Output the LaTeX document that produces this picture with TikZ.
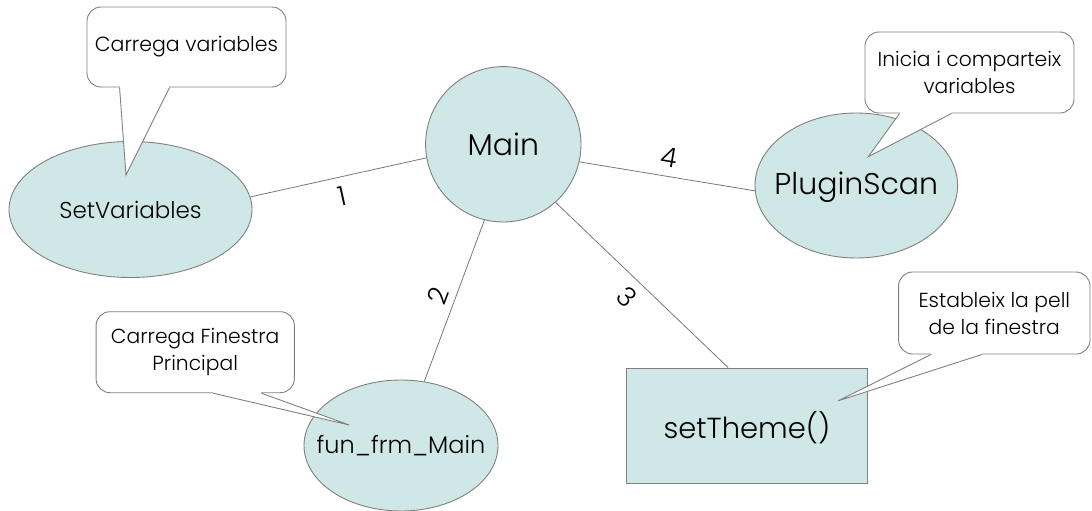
\documentclass[tikz,border=0pt]{standalone}
\usepackage{fontspec}
\newfontfamily\gothic{Poppins Light}
\usetikzlibrary{shapes.geometric,calc}
\definecolor{bubble}{RGB}{207,231,230}
\definecolor{edge}{RGB}{128,128,128}
\definecolor{linkgray}{RGB}{120,120,120}

% tail of a speech bubble: #1 bubble node, #2/#3 offsets of the base along its bottom edge, #4 tip
\newcommand\calloutTail[4]{%
  \fill[white] ($(#1.south west)+(#2,-2)$) -- ($(#1.south west)+(#2,0)$) -- (#4)
    -- ($(#1.south west)+(#3,0)$) -- ($(#1.south west)+(#3,-2)$) -- cycle;
  \draw[tail] ($(#1.south west)+(#2,0)$) -- (#4) -- ($(#1.south west)+(#3,0)$);
}

\begin{document}
\begin{tikzpicture}[x=1pt,y=-1pt,
  blob/.style={draw=edge, fill=bubble, line width=0.9pt, inner sep=0pt},
  oval/.style={blob, ellipse},
  caption/.style={label={[font=\gothic\fontsize{#1}{#1}\selectfont, inner sep=0pt]center:\captiontext}},
  note/.style={draw=edge, fill=white, line width=0.9pt, rounded corners=14pt,
    inner sep=0pt, align=center, font=\gothic\fontsize{20.3}{27}\selectfont},
  tail/.style={draw=edge, line width=0.9pt, line join=miter},
  link/.style={draw=linkgray, line width=0.8pt},
  num/.style={font=\gothic\fontsize{27}{27}\selectfont, inner sep=0pt}]
\useasboundingbox (0,0) rectangle (1092,511);

% process nodes: fixed-size shapes, names set as centred labels
\node[blob, circle, minimum size=155.4pt,
  label={[font=\gothic\fontsize{30}{30}\selectfont, inner sep=0pt]center:Main}]
  (main) at (503.3,144.3) {};
\node[oval, minimum width=243pt, minimum height=136pt,
  label={[font=\gothic\fontsize{23}{23}\selectfont, inner sep=0pt]center:SetVariables}]
  (setvar) at (130.5,209.5) {};
\node[oval, minimum width=202.6pt, minimum height=145pt,
  label={[font=\gothic\fontsize{30}{30}\selectfont, inner sep=0pt, yshift=-2pt]center:PluginScan}]
  (plugin) at (856.3,185.5) {};
\node[oval, minimum width=194pt, minimum height=131pt,
  label={[font=\gothic\fontsize{24}{24}\selectfont, inner sep=0pt]center:fun\_frm\_Main}]
  (funfrm) at (401,445.5) {};
\node[blob, rectangle, minimum width=240.2pt, minimum height=115.1pt,
  label={[font=\gothic\fontsize{29}{29}\selectfont, inner sep=0pt, yshift=-2pt]center:setTheme()}]
  (theme) at (746.9,425.5) {};

% numbered links from Main
\draw[link] (setvar.6) -- node[num, pos=0.52, yshift=-20pt, rotate=12.5] {1} (main.190.2);
\draw[link] (main.256.4) -- node[num, pos=0.467, xshift=-18pt, rotate=69.3] {2} (funfrm.70);
\draw[link] (main.-48.2) -- node[num, pos=0.573, xshift=-27pt, rotate=-43.8] {3} (theme.108.2);
\draw[link] (main.-13) -- node[num, pos=0.511, yshift=19pt, rotate=-9.6] {4} (plugin.183.5);

% speech bubbles
\node[note, minimum width=199pt, minimum height=80pt, font=\gothic\fontsize{20.5}{27}\selectfont]
  (cv) at (186.5,47) {Carrega variables};
\coordinate (cvtip) at (126,175);
\calloutTail{cv}{33}{83}{cvtip}

\node[note, minimum width=209pt, minimum height=81pt]
  (ci) at (969.5,72.5) {Inicia i comparteix\\variables};
\coordinate (citip) at (868.3,156.7);
\calloutTail{ci}{35}{87}{citip}

\node[note, minimum width=191.4pt, minimum height=82pt]
  (ce) at (994.3,313) {Estableix la pell\\de la finestra};
\coordinate (cetip) at (838.2,400.8);
\calloutTail{ce}{33}{84}{cetip}

\node[note, minimum width=198.3pt, minimum height=81pt]
  (cf) at (195.2,352.2) {Carrega Finestra\\Principal};
\coordinate (cftip) at (349.3,425);
\calloutTail{cf}{117.3}{165.7}{cftip}
\end{tikzpicture}
\end{document}
